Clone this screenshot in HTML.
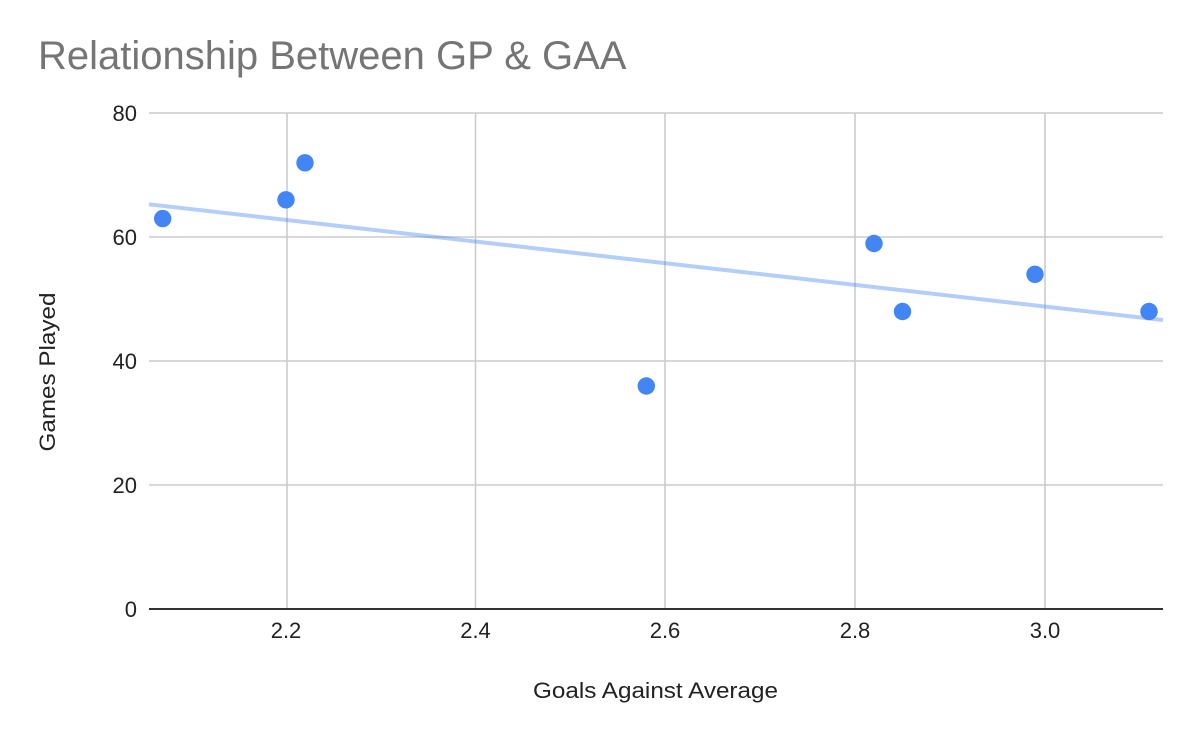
<!DOCTYPE html>
<html>
<head>
<meta charset="utf-8">
<style>
  html, body { margin: 0; padding: 0; background: #ffffff; }
  svg { display: block; }
  text { font-family: "Liberation Sans", Arial, sans-serif; }
</style>
</head>
<body>
<svg width="1200" height="742" viewBox="0 0 1200 742" xmlns="http://www.w3.org/2000/svg">
  <rect x="0" y="0" width="1200" height="742" fill="#ffffff"/>

  <!-- Title -->
  <text x="38" y="69" font-size="40" fill="#757575">Relationship Between GP &amp; GAA</text>

  <!-- Horizontal gridlines -->
  <g stroke="#cccccc" stroke-width="1.6">
    <line x1="149" y1="113" x2="1163" y2="113"/>
    <line x1="149" y1="237" x2="1163" y2="237"/>
    <line x1="149" y1="361" x2="1163" y2="361"/>
    <line x1="149" y1="485" x2="1163" y2="485"/>
  </g>
  <!-- Vertical gridlines -->
  <g stroke="#cccccc" stroke-width="1.6">
    <line x1="287" y1="113" x2="287" y2="609"/>
    <line x1="475.5" y1="113" x2="475.5" y2="609"/>
    <line x1="665" y1="113" x2="665" y2="609"/>
    <line x1="855" y1="113" x2="855" y2="609"/>
    <line x1="1045" y1="113" x2="1045" y2="609"/>
  </g>
  <!-- Zero axis -->
  <line x1="149" y1="609" x2="1163" y2="609" stroke="#333333" stroke-width="2"/>

  <!-- Y tick labels -->
  <g font-size="22" fill="#222222" text-anchor="end">
    <text x="137" y="121">80</text>
    <text x="137" y="245">60</text>
    <text x="137" y="369">40</text>
    <text x="137" y="493">20</text>
    <text x="137" y="617">0</text>
  </g>

  <!-- X tick labels -->
  <g font-size="22" fill="#222222" text-anchor="middle">
    <text x="286" y="638">2.2</text>
    <text x="475.5" y="638">2.4</text>
    <text x="665" y="638">2.6</text>
    <text x="855" y="638">2.8</text>
    <text x="1045" y="638">3.0</text>
  </g>

  <!-- Axis titles -->
  <text x="533" y="698" font-size="22" fill="#222222" textLength="245" lengthAdjust="spacingAndGlyphs">Goals Against Average</text>
  <text transform="translate(55,372) rotate(-90)" font-size="22" fill="#222222" text-anchor="middle" textLength="159" lengthAdjust="spacingAndGlyphs">Games Played</text>

  <!-- Trendline -->
  <line x1="149" y1="204.3" x2="1163" y2="320" stroke="#4285f4" stroke-opacity="0.4" stroke-width="4"/>

  <!-- Points -->
  <g fill="#4285f4">
    <circle cx="162.7" cy="218.6" r="8.7"/>
    <circle cx="286" cy="199.8" r="8.7"/>
    <circle cx="305" cy="162.8" r="8.7"/>
    <circle cx="646.3" cy="386" r="8.7"/>
    <circle cx="874" cy="243.5" r="8.7"/>
    <circle cx="902.5" cy="311.5" r="8.7"/>
    <circle cx="1035" cy="274.3" r="8.7"/>
    <circle cx="1149" cy="311.5" r="8.7"/>
  </g>
</svg>
</body>
</html>
